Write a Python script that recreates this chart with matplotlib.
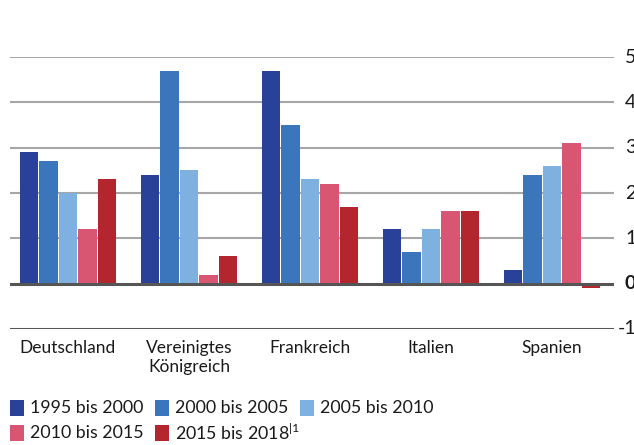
import numpy as np
import matplotlib.pyplot as plt
from matplotlib.patches import Rectangle

plt.rcParams['font.family'] = ['Lato', 'DejaVu Sans']
plt.rcParams['mathtext.default'] = 'regular'

laender = ["Deutschland", "Vereinigtes\nKönigreich", "Frankreich", "Italien", "Spanien"]
zeitraeume = ["1995 bis 2000", "2000 bis 2005", "2005 bis 2010",
              "2010 bis 2015", "2015 bis 2018$^{|1}$"]
werte_1995_2000 = [2.9, 2.4, 4.7, 1.2, 0.3]
werte_2000_2005 = [2.7, 4.7, 3.5, 0.7, 2.4]
werte_2005_2010 = [2.0, 2.5, 2.3, 1.2, 2.6]
werte_2010_2015 = [1.2, 0.2, 2.2, 1.6, 3.1]
werte_2015_2018 = [2.3, 0.6, 1.7, 1.6, -0.1]
y_ticks = [-1, 0, 1, 2, 3, 4, 5]

farben = ["#2a4199", "#3b76bd", "#7fb1e0", "#d95672", "#b3262d"]
serien = [werte_1995_2000, werte_2000_2005, werte_2005_2010, werte_2010_2015, werte_2015_2018]

W, H = 634, 445
fig = plt.figure(figsize=(W / 100, H / 100), dpi=100)
ax = fig.add_axes([10 / W, 1 - 329 / H, 604 / W, 272 / H])

x = np.arange(len(laender))
schritt = 0.161
breite = 0.153
for i, (werte, farbe) in enumerate(zip(serien, farben)):
    ax.bar(x + (i - 2) * schritt, werte, breite, color=farbe, zorder=3)

# Gitterlinien
for t in y_ticks:
    if t in (0, -1):
        ax.axhline(t, color="#555555", lw=2.2, zorder=4 if t == 0 else 2)
    else:
        ax.axhline(t, color="#a6a6a6", lw=1.5, zorder=2)

ax.set_xlim(-0.479, 4.512)
ax.set_ylim(-1, 5)
ax.set_xticks([])
ax.set_yticks([])
for s in ax.spines.values():
    s.set_visible(False)
ax.patch.set_visible(False)

# Achsenbeschriftung rechts (im Original am Bildrand angeschnitten)
for t in y_ticks:
    ax.annotate(str(t), xy=(1, t), xycoords=("axes fraction", "data"),
                xytext=(16, 0), textcoords="offset points", va="center", ha="right",
                fontsize=14, fontweight="bold" if t == 0 else "normal", color="#1a1a1a")

# Länder unter der Achse
for xi, name in zip(x, laender):
    ax.annotate(name, xy=(xi, -1), xycoords="data", xytext=(0, -8),
                textcoords="offset points", ha="center", va="top",
                fontsize=12.5, color="#1a1a1a", linespacing=1.2)

# Legende
spalten_x = [10, 155, 300]
zeilen_y = [408, 433]
for k, (name, farbe) in enumerate(zip(zeitraeume, farben)):
    px = spalten_x[k % 3]
    py = zeilen_y[k // 3]
    fig.add_artist(Rectangle((px / W, 1 - (py + 8) / H), 14 / W, 16 / H,
                             transform=fig.transFigure, facecolor=farbe, edgecolor="none"))
    fig.text((px + 20) / W, 1 - py / H, name, va="center", ha="left",
             fontsize=12.8, color="#1a1a1a")

fig.savefig("out.png", dpi=100)
